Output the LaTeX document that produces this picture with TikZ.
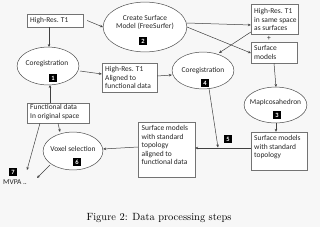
\documentclass[tikz,border=0pt]{standalone}
\usepackage{fontspec}
\newfontfamily\diag{Carlito}
\usetikzlibrary{arrows.meta,shapes.geometric}
\begin{document}
\begin{tikzpicture}[x=1bp,y=-1bp,
  txt/.style={font=\diag\fontsize{7.5}{8.5}\selectfont, align=left, inner sep=0, anchor=north west, text=black!85},
  ctxt/.style={font=\diag\fontsize{7.5}{8.5}\selectfont, align=center, inner sep=0, text=black!85},
  box/.style={draw=black!55, fill=white, line width=0.5bp, inner sep=0},
  ell/.style={draw=black!70, fill=white, ellipse, line width=0.5bp, inner sep=0},
  badge/.style={fill=black, text=white, font=\diag\bfseries\fontsize{6.5}{6.5}\selectfont, minimum width=7.5, minimum height=8.5, inner sep=0},
  arr/.style={draw=black!75, line width=0.5bp, -{Stealth[length=3bp,width=2.6bp]}}]
\useasboundingbox (0,0) rectangle (320,227);
\fill[black!3] (0,0) rectangle (320,227);

% boxes
\node[box, minimum width=56, minimum height=13] (t1) at (55,20.5) {};
\node[txt] (t1t) at (30,17.5) {High-Res. T1};

\node[box, minimum width=47, minimum height=30] (b3) at (274.5,19) {};
\node[txt] (b3t) at (254,8.5) {High-Res. T1\\in same space\\as surfaces};
\node[ctxt] (plus) at (269,38) {+};

\node[box, minimum width=46, minimum height=21] (b4) at (274,52.5) {};
\node[txt] (b4t) at (254,45.5) {Surface\\models};

\node[box, minimum width=55, minimum height=29] (b5) at (129.5,77.5) {};
\node[txt] (b5t) at (105,66.5) {High-Res. T1\\Aligned to\\functional data};

\node[box, minimum width=56, minimum height=38] (b6) at (279,151) {};
\node[txt] (b6t) at (254,135.5) {Surface models\\with standard\\topology};

\node[box, minimum width=57, minimum height=55] (b7) at (166.5,149.5) {};
\node[txt] (b7t) at (141.5,125.5) {Surface models\\with standard\\topology\\aligned to\\functional data};

\node[box, minimum width=62, minimum height=20] (b8) at (58,113) {};
\node[txt] (b8t) at (30,104.5) {Functional data\\In original space};

% ellipses
\node[ell, minimum width=84, minimum height=50] (e2) at (145,27) {};
\node[ctxt] (e2t) at (145,22.5) {Create Surface\\Model (FreeSurfer)};
\node[badge] (n2) at (143,41) {2};

\node[ell, minimum width=62, minimum height=38] (e1) at (48,66) {};
\node[ctxt] (e1t) at (47,64) {Coregistration};
\node[badge] (n1) at (53,78) {1};

\node[ell, minimum width=62, minimum height=37] (e4) at (203,70.5) {};
\node[ctxt] (e4t) at (203,71) {Coregistration};
\node[badge] (n4) at (205,83) {4};

\node[ell, minimum width=63, minimum height=36] (e3) at (275.5,105) {};
\node[ctxt] (e3t) at (275.5,103) {MapIcosahedron};
\node[badge] (n3) at (277,115) {3};

\node[ell, minimum width=60, minimum height=38] (e6) at (73,151) {};
\node[ctxt] (e6t) at (73,149) {Voxel selection};
\node[badge] (n6) at (77,162) {6};

\node[badge] (n5) at (228,139) {5};
\node[badge] (n7) at (13,172) {7};
\node[ctxt] (mvpa) at (15,182) {MVPA ..};

\node[font=\fontsize{10.5}{12}\selectfont, inner sep=0] (cap) at (159,218) {Figure 2: Data processing steps};

% free ends
\coordinate (j5) at (218,147.5);
\coordinate (m7) at (27,170);
\coordinate (mv) at (37,178);

% connectors
\draw[arr] ([xshift=4]t1.east) -- (e2.west);
\draw[arr] (t1.south -| 49,0) -- (49,47);
\draw[arr] (80,71) -- (b5.west |- 0,74);
\draw[arr] (b5.east |- 0,76) -- (e4.west |- 0,75);
\draw[arr] (187,23) -- (b3.west |- 0,25);
\draw[arr] (187,27) -- (b4.west |- 0,53);
\draw[arr] (b3.south west |- 0,32) -- (219,53);
\draw[arr] (b4.south -| 274,0) -- (276,87);
\draw[arr] (e3.south -| 276,0) -- (b6.north -| 276,0);
\draw[arr] (b6.west |- 0,148) -- (b7.east |- 0,148);
\draw[arr] (209,88.5) -- (j5);
\draw[arr] (b7.west |- 0,147) -- (e6.east |- 0,149);
\draw[arr] (b8.north -| 50,0) -- (50,85);
\draw[arr] (b8.south -| 58,0) -- (60,132);
\draw[arr] (b8.south -| 40,0) -- (m7);
\draw[arr] (50,165) -- (mv);
\end{tikzpicture}
\end{document}
